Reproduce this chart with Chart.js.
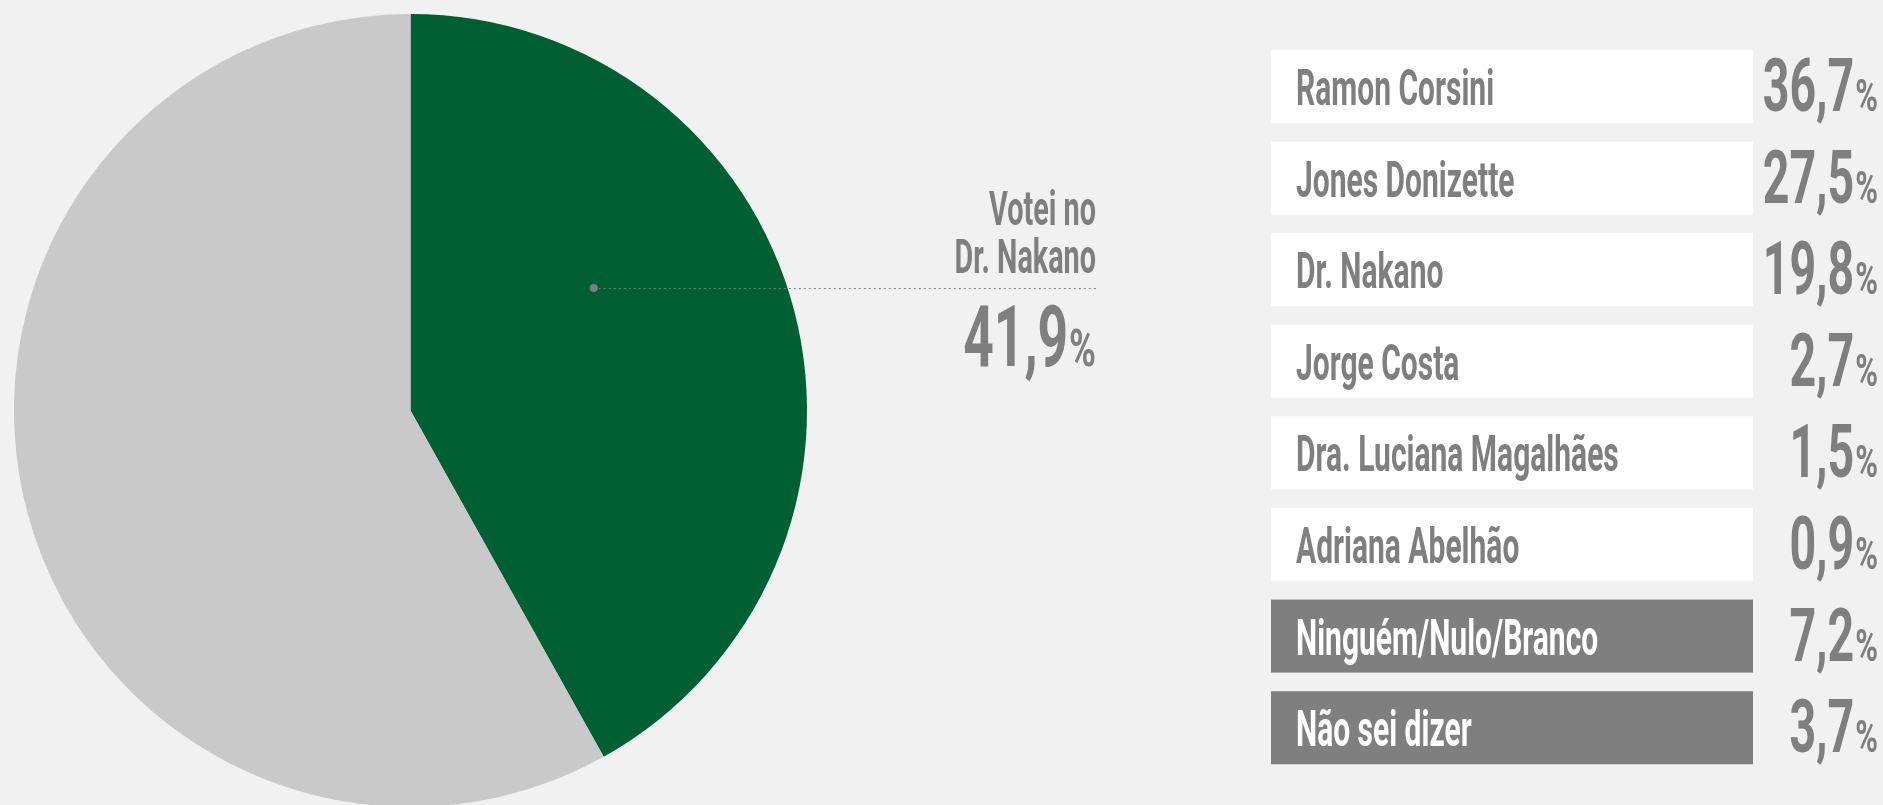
<!DOCTYPE html>
<html><head><meta charset="utf-8">
<script src="https://cdn.jsdelivr.net/npm/chart.js@4.4.1/dist/chart.umd.min.js"></script>
<style>
html,body{margin:0;padding:0;background:#f1f1f1;overflow:hidden;width:1883px;height:805px;}
#wrap{position:absolute;left:0;top:0;width:1883px;height:807px;}
</style></head>
<body><div id="wrap"><canvas id="c"></canvas></div>
<script>
// ---- data ----
const pieLabels = ["Votei no Dr. Nakano", "Não votei no Dr. Nakano"];
const pieValues = [41.9, 58.1];
const pieColors = ["#005f33", "#c9c9c9"];
const calloutLines = ["Votei no", "Dr. Nakano"];

const candidates = ["Ramon Corsini","Jones Donizette","Dr. Nakano","Jorge Costa","Dra. Luciana Magalhães","Adriana Abelhão","Ninguém/Nulo/Branco","Não sei dizer"];
const candValues = [36.7, 27.5, 19.8, 2.7, 1.5, 0.9, 7.2, 3.7];
const candDark = [false,false,false,false,false,false,true,true];

// ---- styles ----
const TEXT = "#7f7f7f";
const FONT = "Roboto";
const SX_LABEL = 0.6;
const SX_VALUE = 0.62;
const SX_PCT = 0.7;
const fmt = v => v.toFixed(1).replace('.', ',');

function condText(ctx, txt, x, y, size, weight, color, align, sx) {
  ctx.save();
  ctx.font = weight + " " + size + "px " + FONT;
  ctx.fillStyle = color;
  ctx.textBaseline = "alphabetic";
  const w = ctx.measureText(txt).width * sx;
  let left = x;
  if (align === "right") left = x - w;
  ctx.translate(left, y);
  ctx.scale(sx, 1);
  ctx.textAlign = "left";
  ctx.fillText(txt, 0, 0);
  ctx.restore();
  return w;
}
function valueText(ctx, v, rightX, baseY, bigSize, pctSize) {
  const pw = condText(ctx, "%", rightX, baseY, pctSize, "700", TEXT, "right", SX_PCT);
  condText(ctx, fmt(v), rightX - pw - 1, baseY, bigSize, "700", TEXT, "right", SX_VALUE);
}

const overlay = {
  id: "overlay",
  afterDraw(chart) {
    const ctx = chart.ctx;
    const arc = chart.getDatasetMeta(0).data[0];
    const cx = arc.x, cy = arc.y, r = arc.outerRadius;
    // callout dot inside green slice
    const a = arc.startAngle + (arc.endAngle - arc.startAngle) * 0.373;
    const dx = cx + Math.cos(a) * r * 0.556;
    const dy = cy + Math.sin(a) * r * 0.556;
    const lineEnd = 1098;
    ctx.save();
    ctx.strokeStyle = TEXT; ctx.lineWidth = 1; ctx.setLineDash([2, 3]);
    ctx.beginPath(); ctx.moveTo(dx, dy + 0.5); ctx.lineTo(lineEnd, dy + 0.5); ctx.stroke();
    ctx.setLineDash([]);
    ctx.fillStyle = TEXT;
    ctx.beginPath(); ctx.arc(dx, dy, 4, 0, Math.PI * 2); ctx.fill();
    ctx.restore();
    condText(ctx, calloutLines[0], 1096, dy - 63, 48, "700", TEXT, "right", SX_LABEL);
    condText(ctx, calloutLines[1], 1096, dy - 15, 48, "700", TEXT, "right", SX_LABEL);
    valueText(ctx, pieValues[0], 1096, dy + 78, 86, 52);

    // candidate list
    const boxX = 1271, boxW = 482, boxH = 73, top0 = 50, pitch = 91.6;
    candidates.forEach((name, i) => {
      const y = top0 + i * pitch;
      ctx.fillStyle = candDark[i] ? "#7f7f7f" : "#ffffff";
      ctx.fillRect(boxX, y, boxW, boxH);
      condText(ctx, name, 1296, y + 55, 50, "700", candDark[i] ? "#ffffff" : TEXT, "left", SX_LABEL);
      valueText(ctx, candValues[i], 1878, y + 61, 75, 44);
    });
  }
};

new Chart(document.getElementById("c"), {
  type: "pie",
  data: { labels: pieLabels, datasets: [{ data: pieValues, backgroundColor: pieColors, borderWidth: 0, hoverOffset: 0 }] },
  options: {
    responsive: true, maintainAspectRatio: false, animation: false,
    events: [],
    layout: { padding: { left: 14, top: 14, right: 1076, bottom: 0 } },
    plugins: { legend: { display: false }, tooltip: { enabled: false } }
  },
  plugins: [overlay]
});
</script>
</body></html>
